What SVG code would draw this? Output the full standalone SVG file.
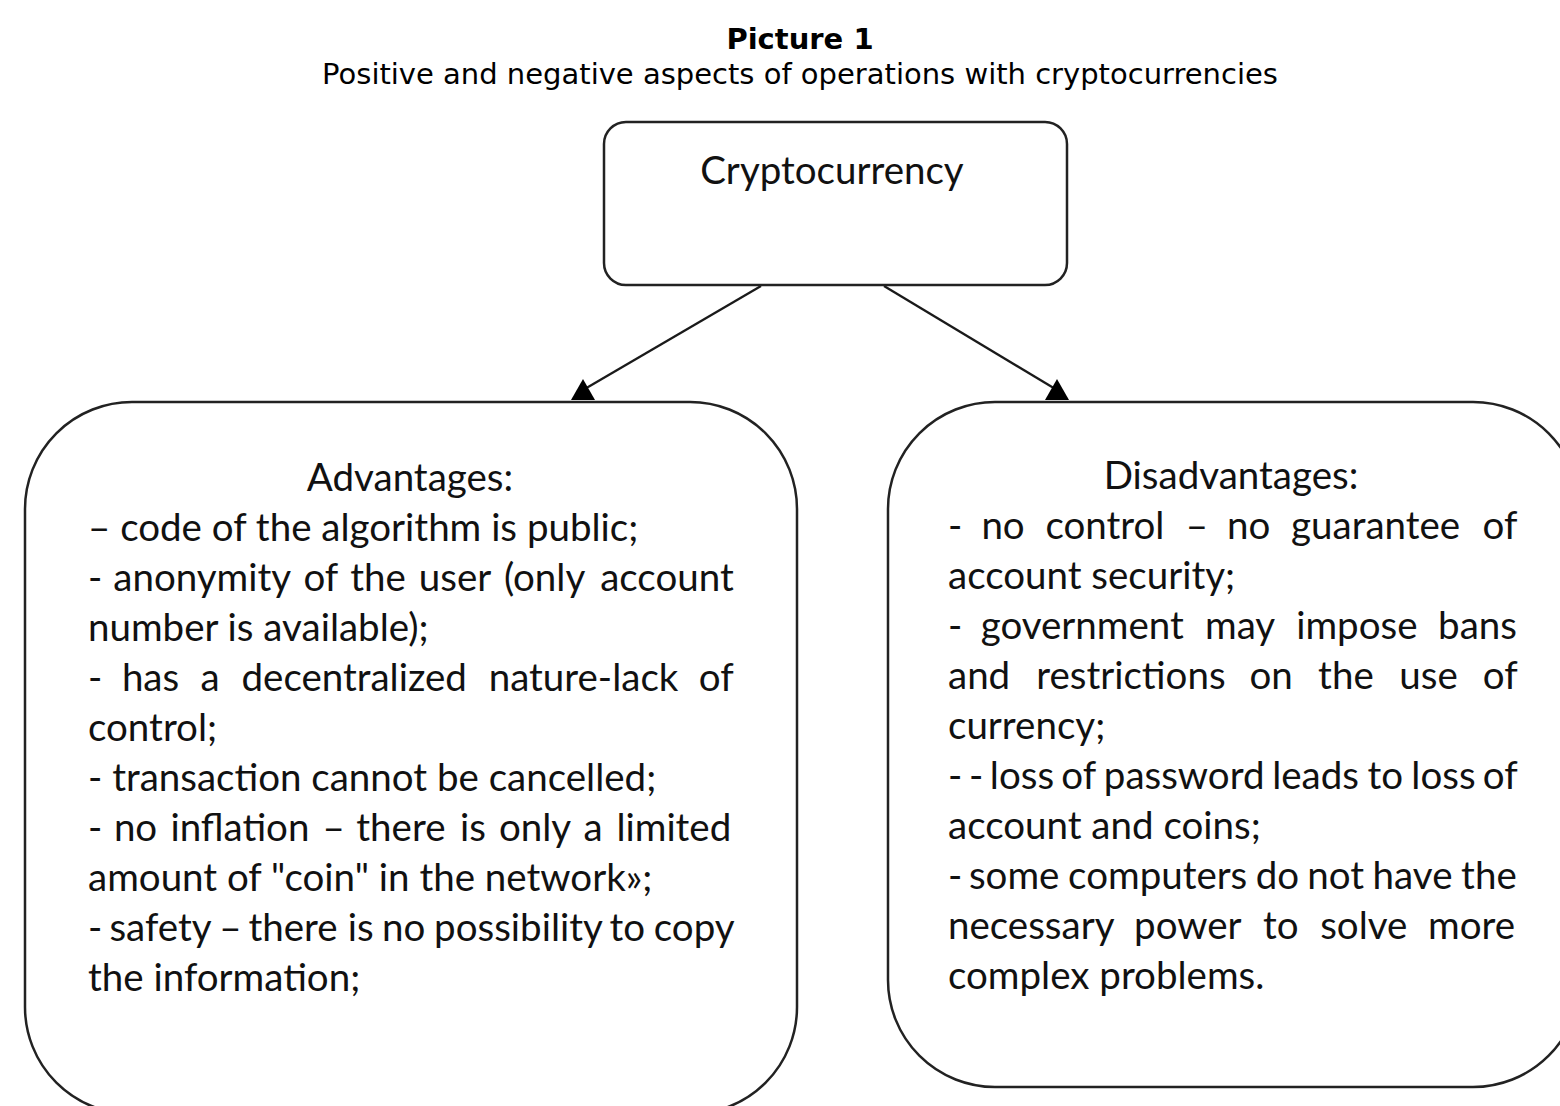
<svg xmlns="http://www.w3.org/2000/svg" width="1560" height="1106" viewBox="0 0 1560 1106">
<style>
.title{font-family:"DejaVu Sans",Verdana,sans-serif;font-size:29px;fill:#000;text-anchor:middle}
.box{fill:#fff;stroke:#222;stroke-width:2.5}
.t{font-family:Lato,"Open Sans",sans-serif;font-size:38.5px;fill:#111}
.c{text-anchor:middle}
.conn{stroke:#1a1a1a;stroke-width:2.3;fill:none}
.head{fill:#000}
</style>
<rect width="1560" height="1106" fill="#fff"/>
<g id="title">
<text class="title" x="800" y="49" font-weight="bold">Picture 1</text>
<text class="title" x="800" y="84">Positive and negative aspects of operations with cryptocurrencies</text>
</g>
<g id="connectors">
<line class="conn" x1="761" y1="286" x2="583" y2="390"/>
<polygon class="head" points="583,379 571,400 595,400"/>
<line class="conn" x1="884" y1="286" x2="1057" y2="390"/>
<polygon class="head" points="1057,379 1045,400 1069,400"/>
</g>
<g id="node-cryptocurrency">
<rect class="box" x="604" y="122" width="463" height="163" rx="22"/>
<text class="t c" x="832" y="184">Cryptocurrency</text>
</g>
<g id="node-advantages">
<rect class="box" x="25" y="402" width="772" height="712" rx="107"/>
<text class="t c" x="410" y="491">Advantages:</text>
<text class="t" x="88" y="541">– code of the algorithm is public;</text>
<text class="t" y="591"><tspan x="88">-</tspan><tspan x="113.3">anonymity</tspan><tspan x="303.4">of</tspan><tspan x="350.3">the</tspan><tspan x="418.8">user</tspan><tspan x="503.9">(only</tspan><tspan x="600.2">account</tspan></text>
<text class="t" x="88" y="641">number is available);</text>
<text class="t" y="691"><tspan x="88">-</tspan><tspan x="121.9">has</tspan><tspan x="200.5">a</tspan><tspan x="241.5">decentralized</tspan><tspan x="488.7">nature-lack</tspan><tspan x="698.8">of</tspan></text>
<text class="t" x="88" y="741">control;</text>
<text class="t" x="88" y="791">- transaction cannot be cancelled;</text>
<text class="t" y="841"><tspan x="88">-</tspan><tspan x="113.9">no</tspan><tspan x="170.4">inflation</tspan><tspan x="322.5">–</tspan><tspan x="356.3">there</tspan><tspan x="460.1">is</tspan><tspan x="498.9">only</tspan><tspan x="583.4">a</tspan><tspan x="616.4">limited</tspan></text>
<text class="t" x="88" y="891">amount of "coin" in the network»;</text>
<text class="t" y="941"><tspan x="88">-</tspan><tspan x="109.4">safety</tspan><tspan x="219.2">–</tspan><tspan x="248.5">there</tspan><tspan x="347.8">is</tspan><tspan x="382.1">no</tspan><tspan x="434.1">possibility</tspan><tspan x="609.6">to</tspan><tspan x="653.8">copy</tspan></text>
<text class="t" x="88" y="991">the information;</text>
</g>
<g id="node-disadvantages">
<rect class="box" x="888" y="402" width="692" height="685" rx="107"/>
<text class="t c" x="1231" y="489">Disadvantages:</text>
<text class="t" y="539"><tspan x="948">-</tspan><tspan x="981.4">no</tspan><tspan x="1045.4">control</tspan><tspan x="1185.8">–</tspan><tspan x="1227.1">no</tspan><tspan x="1291.1">guarantee</tspan><tspan x="1482.5">of</tspan></text>
<text class="t" x="948" y="589">account security;</text>
<text class="t" y="639"><tspan x="948">-</tspan><tspan x="980.7">government</tspan><tspan x="1205">may</tspan><tspan x="1296.2">impose</tspan><tspan x="1438.1">bans</tspan></text>
<text class="t" y="689"><tspan x="948">and</tspan><tspan x="1036.2">restrictions</tspan><tspan x="1249.5">on</tspan><tspan x="1318.1">the</tspan><tspan x="1399.3">use</tspan><tspan x="1482.8">of</tspan></text>
<text class="t" x="948" y="739">currency;</text>
<text class="t" y="789"><tspan x="948">-</tspan><tspan x="968.9">-</tspan><tspan x="989.8">loss</tspan><tspan x="1061.3">of</tspan><tspan x="1103.8">password</tspan><tspan x="1272.2">leads</tspan><tspan x="1367.6">to</tspan><tspan x="1411.3">loss</tspan><tspan x="1482.8">of</tspan></text>
<text class="t" x="948" y="839">account and coins;</text>
<text class="t" y="889"><tspan x="948">-</tspan><tspan x="968.9">some</tspan><tspan x="1068.1">computers</tspan><tspan x="1255.8">do</tspan><tspan x="1307.3">not</tspan><tspan x="1372.6">have</tspan><tspan x="1461.1">the</tspan></text>
<text class="t" y="939"><tspan x="948">necessary</tspan><tspan x="1134.1">power</tspan><tspan x="1263.1">to</tspan><tspan x="1320.2">solve</tspan><tspan x="1428">more</tspan></text>
<text class="t" x="948" y="989">complex problems.</text>
</g>
</svg>
